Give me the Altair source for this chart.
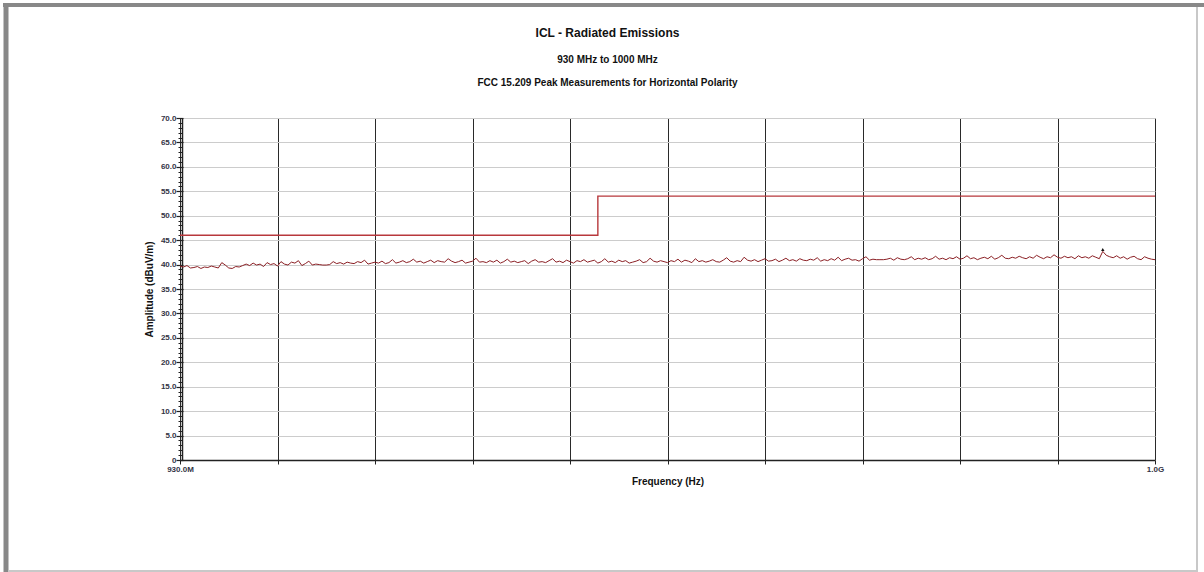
import altair as alt
import pandas as pd

# ---- data ----
f_start = 930.0
f_stop = 1000.0
amplitude = [
    39.7, 39.5, 39.8, 39.3, 39.4, 39.6, 39.2, 39.5, 39.4, 39.7, 39.5, 39.3, 40.4, 39.9, 39.3, 39.2, 39.6, 39.5, 39.8, 40.1,
    39.8, 40.3, 39.9, 40.1, 39.6, 40.4, 40.0, 40.2, 39.7, 40.6, 40.1, 39.9, 40.5, 40.3, 40.8, 39.8, 40.2, 40.7, 39.9, 40.1,
    40.0, 39.9, 39.9, 40.0, 40.6, 40.2, 40.4, 40.1, 40.5, 40.3, 40.2, 40.6, 40.4, 40.9, 40.1, 40.3, 40.5, 40.3, 40.7, 40.2,
    40.4, 41.0, 40.3, 40.5, 40.8, 40.4, 40.6, 41.1, 40.5, 40.7, 40.3, 40.6, 40.9, 40.4, 40.8, 40.6, 40.5, 41.2, 40.7, 40.4,
    40.6, 40.9, 40.3, 40.5, 40.7, 41.3, 40.5, 40.6, 40.4, 40.8, 40.5, 40.9, 40.3, 40.6, 41.1, 40.5, 40.7, 40.4, 40.6, 40.8,
    40.2, 40.7, 41.0, 40.5, 40.6, 40.4, 40.8, 41.2, 40.5, 40.7, 40.4, 40.9, 40.6, 40.3, 40.8, 40.6, 41.0, 40.5, 40.7, 40.9,
    40.3, 40.6, 41.2, 40.5, 40.7, 40.4, 40.9, 40.6, 40.8, 40.3, 40.5, 40.7, 41.0, 40.4, 40.6, 41.3, 40.7, 40.5, 40.8, 40.6,
    40.4, 40.8, 40.6, 41.1, 40.5, 40.9, 40.7, 40.4, 41.2, 40.6, 40.8, 40.5, 40.7, 41.0, 40.6, 40.5, 40.9, 41.4, 40.7, 40.5,
    40.8, 40.6, 41.5, 40.9, 40.7, 41.0, 40.6, 40.9, 41.2, 40.7, 40.8, 41.1, 40.6, 40.9, 41.3, 40.8, 41.0, 40.7, 41.2, 40.9,
    40.8, 41.1, 40.9, 41.4, 40.7, 41.0, 40.8, 41.2, 40.9, 41.5, 40.8, 41.1, 41.3, 40.9, 41.0, 40.7, 41.2, 41.6, 40.9, 41.1,
    41.0, 41.0, 41.0, 41.1, 41.3, 40.9, 41.4, 41.1, 41.0, 41.2, 41.6, 41.0, 41.3, 41.1, 41.4, 41.0, 41.2, 41.7, 41.1, 41.3,
    41.0, 41.4, 41.2, 41.6, 41.1, 41.3, 41.8, 41.2, 41.4, 41.0, 41.3, 41.5, 41.2, 41.7, 41.1, 41.4, 41.9, 41.3, 41.2, 41.5,
    41.3, 41.7, 41.4, 41.2, 41.6, 41.3, 41.9, 41.5, 41.2, 41.6, 41.4, 42.0, 41.5, 41.3, 41.7, 41.4, 41.6, 41.2, 41.8, 41.4,
    41.6, 41.3, 41.8, 41.5, 41.2, 42.7, 41.9, 41.6, 41.4, 41.8, 41.3, 41.6, 41.1, 41.5, 41.7, 41.2, 41.0, 41.6, 41.3, 41.1,
    41.0,
]
f_step = (f_stop - f_start) / (len(amplitude) - 1)
frequency = [f_start + i * f_step for i in range(len(amplitude))]

limit_freq = [930.0, 960.0, 1000.0]
limit_level = [46.0, 54.0, 54.0]

marker_freq = [996.25]
marker_level = [43.1]

x_ticks = [930, 937, 944, 951, 958, 965, 972, 979, 986, 993, 1000]
y_major = [0, 5, 10, 15, 20, 25, 30, 35, 40, 45, 50, 55, 60, 65, 70]
y_minor = list(range(0, 71))

trace_df = pd.DataFrame({"f": frequency, "a": amplitude})
limit_df = pd.DataFrame({"f": limit_freq, "a": limit_level})
marker_df = pd.DataFrame({"f": marker_freq, "a": marker_level})

FONT = "Liberation Sans"
xscale = alt.Scale(domain=[930, 1000], nice=False, zero=False)
yscale = alt.Scale(domain=[0, 70], nice=False)

x_axis = alt.Axis(
    values=x_ticks,
    labelExpr="datum.value == 930 ? '930.0M' : (datum.value == 1000 ? '1.0G' : '')",
    grid=True, gridColor="#2a2a2a", gridWidth=1, gridOpacity=1,
    domainColor="#222222", domainWidth=1.5,
    tickColor="#222222", tickSize=4,
    labelFont=FONT, labelFontSize=8, labelFontWeight="bold", labelColor="#333344",
    labelPadding=1, labelOverlap=False, labelFlush=False,
    title="Frequency (Hz)", titleFont=FONT, titleFontSize=10, titleFontWeight="bold",
    titleColor="#111111", titlePadding=3,
)

y_major_axis = alt.Axis(
    values=y_major, orient="left", offset=-3,
    labelExpr="datum.value == 0 ? '0' : format(datum.value, '.1f')",
    grid=True, gridColor="#cccccc", gridWidth=1.2,
    domain=False, tickColor="#222222", tickSize=7, tickWidth=1.2,
    labelFont=FONT, labelFontSize=8, labelFontWeight="bold", labelColor="#333344",
    labelPadding=0,
    title="Amplitude (dBuV/m)", titleFont=FONT, titleFontSize=10, titleFontWeight="bold",
    titleColor="#111111", titlePadding=6,
)

y_minor_axis = alt.Axis(
    values=y_minor, orient="left", offset=-2,
    labels=False, grid=False, domain=True, domainColor="#222222", domainWidth=1.5,
    tickColor="#222222", tickSize=4, title=None,
)

trace = alt.Chart(trace_df).mark_line(color="#8b1f24", strokeWidth=1).encode(
    x=alt.X("f:Q", scale=xscale, axis=x_axis),
    y=alt.Y("a:Q", scale=yscale, axis=y_major_axis),
)

limit = alt.Chart(limit_df).mark_line(
    color="#b8383c", strokeWidth=1.4, interpolate="step-after"
).encode(
    x=alt.X("f:Q", scale=xscale),
    y=alt.Y("a:Q", scale=yscale, axis=y_minor_axis),
)

marker = alt.Chart(marker_df).mark_point(
    shape="triangle-up", size=12, filled=True, color="#111111", opacity=1
).encode(
    x=alt.X("f:Q", scale=xscale),
    y=alt.Y("a:Q", scale=yscale, axis=None),
)

# decorative window frame
frame_df = pd.DataFrame({"k": [1]})
frame_top = alt.Chart(frame_df).mark_rule(color="#888888", strokeWidth=4).encode(
    x=alt.value(-177), x2=alt.value(1024), y=alt.value(-113)
)
frame_left = alt.Chart(frame_df).mark_rule(color="#888888", strokeWidth=5).encode(
    x=alt.value(-174), y=alt.value(-115), y2=alt.value(454)
)
frame_right = alt.Chart(frame_df).mark_rule(color="#c8c8c8", strokeWidth=2).encode(
    x=alt.value(1017), y=alt.value(-111), y2=alt.value(454)
)
frame_bottom = alt.Chart(frame_df).mark_rule(color="#c8c8c8", strokeWidth=2).encode(
    x=alt.value(-172), x2=alt.value(1018), y=alt.value(453)
)

chart = alt.layer(
    limit, trace, marker, frame_top, frame_left, frame_right, frame_bottom
).resolve_axis(y="independent").properties(
    width=975,
    height=342,
    autosize=alt.AutoSizeParams(type="none"),
    padding={"left": 180, "top": 118, "right": 49, "bottom": 112},
    background="white",
    title=alt.TitleParams(
        text="ICL - Radiated Emissions",
        subtitle=["930 MHz to 1000 MHz", "FCC 15.209 Peak Measurements for Horizontal Polarity"],
        anchor="middle", frame="group", dx=-60, offset=-88,
        font=FONT, fontSize=12, fontWeight="bold", color="#111111",
        subtitleFont=FONT, subtitleFontSize=10, subtitleFontWeight="bold",
        subtitleColor="#111111", subtitleLineHeight=23, subtitlePadding=15,
    ),
).configure_view(stroke=None)

chart.save("out.html", embed_options={"renderer": "svg", "actions": False})
